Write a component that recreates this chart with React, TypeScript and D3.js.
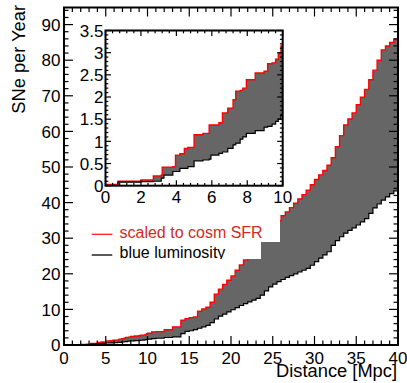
import React from "react";
import * as d3 from "d3";

const distance = [
  0, 0.7, 2.0, 2.7, 3.15, 3.2, 3.3, 3.8, 3.95, 4.2, 4.45, 4.65, 5.0, 5.5, 5.85, 5.95,
  6.4, 6.6, 6.9, 7.2, 7.35, 7.6, 7.75, 7.95, 8.45, 8.95, 9.15, 9.4, 9.6, 9.75, 9.9, 10.0,
  10.5, 11, 12, 13, 14, 14.5, 15, 15.5, 16, 16.5, 17, 17.5, 18, 18.5, 19, 19.5, 20,
  20.5, 21, 21.5, 22, 22.5, 23, 23.5, 24, 24.5, 25, 25.5, 26, 26.5, 27, 27.5, 28, 28.5,
  29, 29.5, 30, 30.5, 31, 31.5, 32, 32.5, 33, 33.5, 34, 34.5, 35, 35.5, 36, 36.5, 37,
  37.5, 38, 38.5, 39, 39.5, 40,
];

const sfrScaled = [
  0.03, 0.1, 0.13, 0.22, 0.24, 0.42, 0.42, 0.43, 0.69, 0.72, 0.84, 0.86, 1.15, 1.18, 1.37, 1.37,
  1.42, 1.64, 1.75, 1.94, 2.13, 2.15, 2.2, 2.39, 2.54, 2.58, 2.75, 2.77, 2.85, 2.98, 3.15, 3.3,
  3.7, 3.75, 4.3, 5.1, 7.0, 7.4, 7.7, 7.9, 9.5, 10.1, 10.6, 12.0, 14.3, 15.7, 17.0, 18.2, 19.4,
  21.0, 22.5, 23.9, 25.3, 26.7, 28.0, 29.4, 30.8, 32.2, 33.5, 34.9, 36.3, 37.4, 38.6, 39.8, 41.0, 42.2,
  43.5, 45.0, 46.5, 47.8, 49.0, 50.5, 52.6, 55.7, 58.8, 61.8, 63.5, 65.2, 67.5, 69.6, 71.8, 74.5, 77.2,
  80.0, 82.9, 84.0, 85.0, 85.8, 86.3,
];

const blueLum = [
  0.0, 0.08, 0.09, 0.1, 0.17, 0.17, 0.24, 0.32, 0.32, 0.39, 0.39, 0.43, 0.56, 0.58, 0.6, 0.69,
  0.73, 0.76, 0.84, 0.92, 0.96, 1.05, 1.1, 1.18, 1.24, 1.32, 1.34, 1.39, 1.45, 1.5, 1.58, 1.67,
  1.8, 1.9, 2.1, 2.3, 3.2, 3.8, 4.0, 4.3, 4.7, 5.1, 5.5, 6.3, 7.3, 8.1, 8.7, 9.3, 9.9,
  10.5, 11.1, 11.6, 12.1, 12.6, 13.1, 14.0, 15.2, 16.3, 17.1, 17.8, 18.4, 19.0, 19.5, 20.0, 20.5, 21.0,
  21.5, 22.4, 23.4, 24.4, 25.3, 26.2, 28.0, 29.3, 30.4, 31.4, 32.2, 32.9, 33.7, 34.6, 35.5, 37.0, 38.5,
  39.6, 40.7, 41.6, 42.5, 43.3, 44.0,
];

const mainXTicks = [0, 5, 10, 15, 20, 25, 30, 35, 40];
const mainYTicks = [0, 10, 20, 30, 40, 50, 60, 70, 80, 90];
const insetXTicks = [0, 2, 4, 6, 8, 10];
const insetYTicks = [0, 0.5, 1, 1.5, 2, 2.5, 3, 3.5];
const legendLabels = ["scaled to cosm SFR", "blue luminosity"];
const xTitle = "Distance [Mpc]";
const yTitle = "SNe per Year";

const FONT = "'Liberation Sans', Arial, Helvetica, sans-serif";
const W = 407;
const H = 383;

type Lin = d3.ScaleLinear<number, number>;

function Frame(props: {
  x: Lin; y: Lin; xMinor: number; yMinor: number; major: number; minor: number;
  xTicks: number[]; yTicks: number[];
}) {
  const { x, y, xMinor, yMinor, major, minor, xTicks, yTicks } = props;
  const [x0, x1] = x.range();
  const [y0, y1] = y.range();
  const [dx0, dx1] = x.domain();
  const [dy0, dy1] = y.domain();
  const isMajor = (v: number, arr: number[]) => arr.some((t) => Math.abs(t - v) < 1e-6);
  const xs = d3.range(dx0, dx1 + 1e-9, xMinor).map((v) => +v.toFixed(6));
  const ys = d3.range(dy0, dy1 + 1e-9, yMinor).map((v) => +v.toFixed(6));
  const els: React.ReactNode[] = [];
  xs.forEach((v, i) => {
    const L = isMajor(v, xTicks) ? major : minor;
    const px = x(v);
    els.push(<line key={"xb" + i} x1={px} x2={px} y1={y0} y2={y0 - L} />);
    els.push(<line key={"xt" + i} x1={px} x2={px} y1={y1} y2={y1 + L} />);
  });
  ys.forEach((v, i) => {
    const L = isMajor(v, yTicks) ? major : minor;
    const py = y(v);
    els.push(<line key={"yl" + i} x1={x0} x2={x0 + L} y1={py} y2={py} />);
    els.push(<line key={"yr" + i} x1={x1} x2={x1 - L} y1={py} y2={py} />);
  });
  return (
    <g>
      <g stroke="#000" strokeWidth={1.2}>{els}</g>
      <rect x={x0} y={y1} width={x1 - x0} height={y0 - y1} fill="none" stroke="#000" strokeWidth={2} />
    </g>
  );
}

export default function App() {
  const idx = d3.range(distance.length);

  const x = d3.scaleLinear([0, 40], [64, 398]);
  const y = d3.scaleLinear([0, 94.8], [345, 7.5]);
  const ix = d3.scaleLinear([0, 10], [105.5, 282.7]);
  const iy = d3.scaleLinear([0, 3.5], [185.7, 30.5]);

  const mk = (sx: Lin, sy: Lin) => ({
    area: d3.area<number>().x((i) => sx(distance[i])).y0((i) => sy(blueLum[i])).y1((i) => sy(sfrScaled[i])).curve(d3.curveStepAfter)(idx) || "",
    red: d3.line<number>().x((i) => sx(distance[i])).y((i) => sy(sfrScaled[i])).curve(d3.curveStepAfter)(idx) || "",
    blk: d3.line<number>().x((i) => sx(distance[i])).y((i) => sy(blueLum[i])).curve(d3.curveStepAfter)(idx) || "",
  });
  const m = mk(x, y);
  const ins = mk(ix, iy);

  return (
    <svg width={W} height={H} style={{ position: "absolute", left: 0, top: 0 }} fontFamily={FONT}>
      <defs>
        <clipPath id="mainClip"><rect x={64} y={7.5} width={334} height={337.5} /></clipPath>
        <clipPath id="insetClip"><rect x={105.5} y={30.5} width={177.2} height={155.2} /></clipPath>
        <clipPath id="leg2Clip"><rect x={85} y={242} width={176} height={17} /></clipPath>
      </defs>
      <rect x={0} y={0} width={W} height={H} fill="#fff" />
      <g clipPath="url(#mainClip)">
        <path d={m.area} fill="#666666" />
        <path d={m.red} fill="none" stroke="#ff0000" strokeWidth={1.4} />
        <path d={m.blk} fill="none" stroke="#000" strokeWidth={1.2} />
      </g>

      {/* legend */}
      <rect x={85} y={219} width={195} height={23} fill="#fff" />
      <rect x={85} y={242} width={176} height={17} fill="#fff" />
      <line x1={91.7} x2={112.3} y1={234.3} y2={234.3} stroke="#ff2020" strokeWidth={1.3} />
      <text x={119.5} y={237.7} fontSize={16} fill="#d42a1f">{legendLabels[0]}</text>
      <line x1={91.7} x2={112.3} y1={255} y2={255} stroke="#000" strokeWidth={1.3} />
      <text x={119.5} y={257.6} fontSize={16} fill="#000" clipPath="url(#leg2Clip)">{legendLabels[1]}</text>

      {/* inset */}
      <rect x={105.5} y={30.5} width={177.2} height={155.2} fill="#fff" />
      <g clipPath="url(#insetClip)">
        <path d={ins.area} fill="#666666" />
        <path d={ins.red} fill="none" stroke="#ff0000" strokeWidth={1.4} />
        <path d={ins.blk} fill="none" stroke="#000" strokeWidth={1.2} />
      </g>
      <Frame x={ix} y={iy} xMinor={0.4} yMinor={0.1} major={5.5} minor={2.8} xTicks={insetXTicks} yTicks={insetYTicks} />
      {insetYTicks.map((t) => (
        <text key={"iyl" + t} x={103.5} y={iy(t) + 6.2} fontSize={17} textAnchor="end">{String(t)}</text>
      ))}
      {insetXTicks.map((t) => (
        <text key={"ixl" + t} x={ix(t)} y={202.5} fontSize={17} textAnchor="middle">{String(t)}</text>
      ))}

      {/* main frame */}
      <Frame x={x} y={y} xMinor={1} yMinor={2} major={9} minor={4.5} xTicks={mainXTicks} yTicks={mainYTicks} />
      {mainYTicks.map((t) => (
        <text key={"yl" + t} x={60.5} y={y(t) + 6.2} fontSize={17} textAnchor="end">{String(t)}</text>
      ))}
      {mainXTicks.map((t) => (
        <text key={"xl" + t} x={x(t)} y={363.5} fontSize={17} textAnchor="middle">{String(t)}</text>
      ))}
      <text x={397} y={377} fontSize={18.3} textAnchor="end">{xTitle}</text>
      <text transform="translate(24.5,5) rotate(-90)" fontSize={18.3} textAnchor="end">{yTitle}</text>
    </svg>
  );
}
